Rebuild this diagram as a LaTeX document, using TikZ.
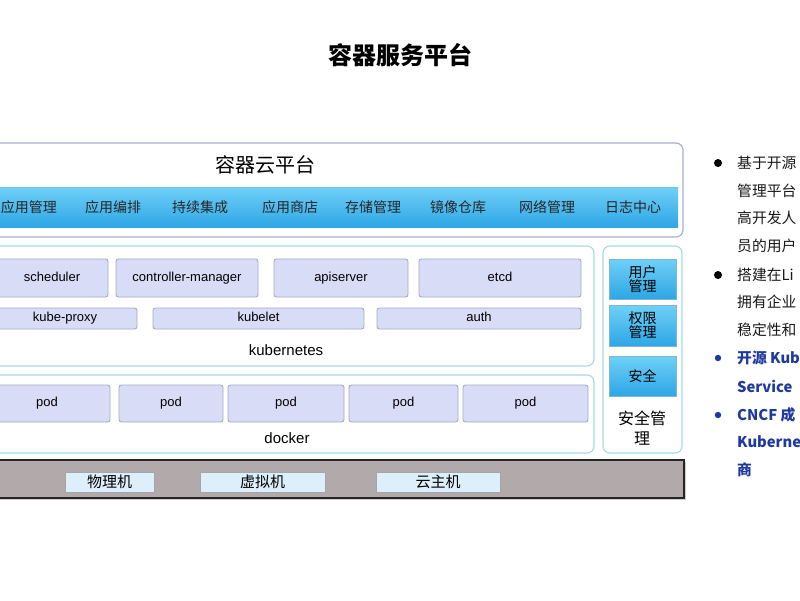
\documentclass[tikz,border=0pt]{standalone}
\usepackage{fontspec}
\setmainfont{Liberation Sans}
\newfontfamily\cjk{Noto Sans CJK SC}
\usetikzlibrary{shadows}
\definecolor{compfill}{HTML}{D9DCF6}
\definecolor{compdraw}{HTML}{A3AAC6}
\definecolor{tealdraw}{HTML}{A6DAE2}
\definecolor{outerdraw}{HTML}{A8B0CA}
\definecolor{bandtop}{HTML}{6FD0F7}
\definecolor{bandbot}{HTML}{2EA6E6}
\definecolor{basefill}{HTML}{B2AAAA}
\definecolor{hostfill}{HTML}{DCEFFB}
\definecolor{bluetext}{HTML}{1F3A9E}
\tikzset{
  x=1pt, y=-1pt,
  comp/.style={draw=compdraw, fill=compfill, rounded corners=2.5pt, line width=0.9pt, inner sep=0pt, text height=9pt, text depth=3pt, font=\fontsize{13}{15}\selectfont},
  cont/.style={draw=tealdraw, fill=white, rounded corners=7pt, line width=1.1pt},
  secbox/.style={top color=bandtop, bottom color=bandbot, draw=bandbot!80!black!60, line width=0.4pt, inner sep=0pt, align=center, font=\cjk\fontsize{14}{15}\selectfont},
  bandlabel/.style={font=\cjk\fontsize{14}{16}\selectfont, text=black!85},
  host/.style={draw=gray!70, fill=hostfill, line width=0.6pt, inner sep=0pt, font=\cjk\fontsize{15}{16}\selectfont},
  rtext/.style={anchor=west, inner sep=0pt, font=\cjk\fontsize{14.8}{17}\selectfont, text=black!90},
  btext/.style={anchor=west, inner sep=0pt, font=\cjk\bfseries\fontsize{14.8}{17}\selectfont, text=bluetext},
  lbl/.style={font=\fontsize{15}{17}\selectfont}
}
\begin{document}
\begin{tikzpicture}
\useasboundingbox (0,0) rectangle (800,600);
\fill[white] (0,0) rectangle (800,600);
% title
\node[font=\cjk\bfseries\fontsize{24}{28}\selectfont] (title) at (400,55) {容器服务平台};
% outer cloud platform
\draw[draw=outerdraw, line width=1.2pt, rounded corners=7pt, fill=white] (-10,143) rectangle (683,237);
\node[font=\cjk\fontsize{20}{22}\selectfont] (cloud) at (265,165) {容器云平台};
\shade[top color=bandtop, bottom color=bandbot] (-10,187) rectangle (678,227);
\draw[bandbot!70!white, line width=0.5pt] (-10,187) -- (678,187);
\node[bandlabel] (a1) at (29,207) {应用管理};
\node[bandlabel] (a2) at (113,207) {应用编排};
\node[bandlabel] (a3) at (200,207) {持续集成};
\node[bandlabel] (a4) at (290,207) {应用商店};
\node[bandlabel] (a5) at (373,207) {存储管理};
\node[bandlabel] (a6) at (458,207) {镜像仓库};
\node[bandlabel] (a7) at (547,207) {网络管理};
\node[bandlabel] (a8) at (633,207) {日志中心};
% kubernetes
\draw[cont] (-10,246) rectangle (594,366);
\node[comp, minimum width=112, minimum height=38] (sched) at (52,278) {scheduler};
\node[comp, minimum width=142, minimum height=38] (cm) at (187,278) {controller-manager};
\node[comp, minimum width=134, minimum height=38] (api) at (341,278) {apiserver};
\node[comp, minimum width=162, minimum height=38] (etcd) at (500,278) {etcd};
\node[comp, minimum width=144, minimum height=21] (kp) at (65,318.5) {kube-proxy};
\node[comp, minimum width=211, minimum height=21] (kl) at (258.5,318.5) {kubelet};
\node[comp, minimum width=204, minimum height=21] (auth) at (479,318.5) {auth};
\node[lbl] (k8s) at (286,350) {kubernetes};
% docker
\draw[cont] (-10,375) rectangle (594,453);
\node[comp, minimum width=126, minimum height=37] (p1) at (47,403.5) {pod};
\node[comp, minimum width=104, minimum height=37] (p2) at (171,403.5) {pod};
\node[comp, minimum width=116, minimum height=37] (p3) at (286,403.5) {pod};
\node[comp, minimum width=109, minimum height=37] (p4) at (403.5,403.5) {pod};
\node[comp, minimum width=125, minimum height=37] (p5) at (525.5,403.5) {pod};
\node[lbl] (dock) at (287,438) {docker};
% security
\draw[cont] (603,246) rectangle (682,453);
\node[secbox, minimum width=67, minimum height=40] (s1) at (642.5,279) {用户\\[-1pt]管理};
\node[secbox, minimum width=67, minimum height=41] (s2) at (642.5,325.5) {权限\\[-1pt]管理};
\node[secbox, minimum width=67, minimum height=40] (s3) at (642.5,376) {安全};
\node[font=\cjk\fontsize{16}{20}\selectfont, align=center] (sec) at (642,428) {安全管\\理};
% base
\draw[fill=basefill, draw=black!85, line width=1.3pt, drop shadow={shadow xshift=2pt, shadow yshift=-2pt, opacity=0.4}] (-10,460) rectangle (684,498);
\node[host, minimum width=89, minimum height=20] (h1) at (109.5,482) {物理机};
\node[host, minimum width=125, minimum height=20] (h2) at (262.5,482) {虚拟机};
\node[host, minimum width=124, minimum height=20] (h3) at (438,482) {云主机};
% right text
\fill[black] (718,163) circle (4);
\fill[black] (718,275) circle (4);
\fill[bluetext] (718,358) circle (3.2);
\fill[bluetext] (718,415) circle (3.2);
\node[rtext] (t1) at (737,163) {基于开源};
\node[rtext] (t2) at (737,191) {管理平台};
\node[rtext] (t3) at (737,218) {高开发人};
\node[rtext] (t4) at (737,246) {员的用户};
\node[rtext] (t5) at (737,275) {搭建在Li};
\node[rtext] (t6) at (737,302) {拥有企业};
\node[rtext] (t7) at (737,330) {稳定性和};
\node[btext] (t8) at (737,358) {开源 Kub};
\node[btext] (t9) at (737,386) {Service};
\node[btext] (t10) at (737,415) {CNCF 成};
\node[btext] (t11) at (737,442) {Kuberne};
\node[btext] (t12) at (737,470) {商};
\end{tikzpicture}
\end{document}
